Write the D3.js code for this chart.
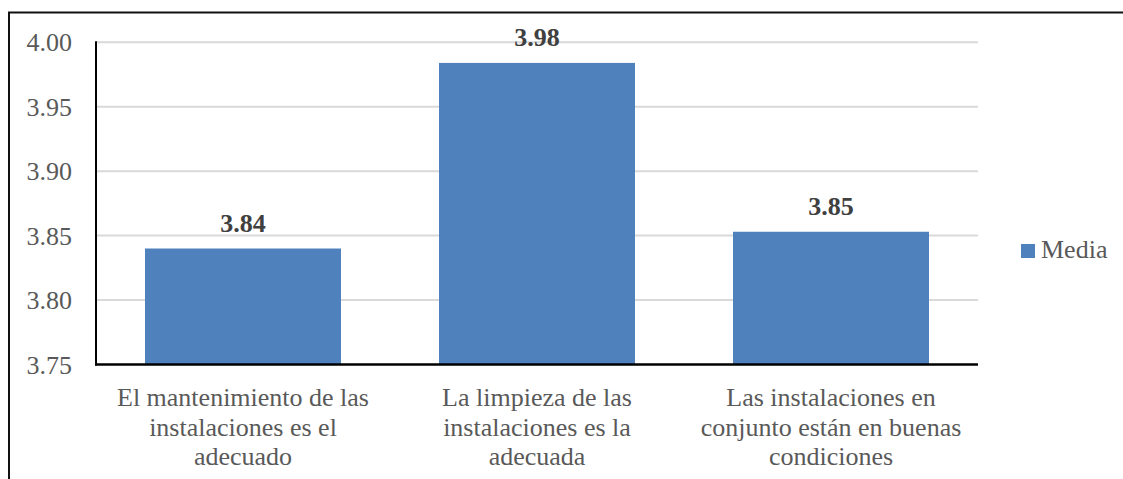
<!DOCTYPE html>
<html>
<head>
<meta charset="utf-8">
<script src="https://cdn.jsdelivr.net/npm/d3@7"></script>
<style>
	body { margin: 0; background: #fff; }
	svg { display: block; }
</style>
</head>
<body>
<div id="chart"></div>
<script>
"use strict"

// data
var categories = [
	"El mantenimiento de las instalaciones es el adecuado",
	"La limpieza de las instalaciones es la adecuada",
	"Las instalaciones en conjunto están en buenas condiciones"
];
var mediaValues = [3.84, 3.984, 3.853];
var yTicks = [3.75, 3.80, 3.85, 3.90, 3.95, 4.00];
var seriesName = "Media";

//
// bar chart inside a framed box
//
function MediaChart(sParentId) {
	this.sParentId = sParentId;
	this.width = 1123;
	this.height = 479;
	this.left = 96;
	this.right = 978;
	this.top = 42.3;
	this.bottom = 364.5;
	this.barColor = "#4F81BD";
	this.font = "'Liberation Serif', 'Times New Roman', serif";
	this.create();
}

MediaChart.prototype.create = function() {
	var self = this;
	this.svg = d3.select("#" + this.sParentId)
		.append("svg")
		.attr("width", this.width)
		.attr("height", this.height)
		.style("font-family", this.font)
		;

	// outer frame (only top and left visible)
	this.svg.append("line")
		.attr("x1", 8).attr("x2", this.width)
		.attr("y1", 12.5).attr("y2", 12.5)
		.attr("stroke", "#111").attr("stroke-width", 2)
		;
	this.svg.append("line")
		.attr("x1", 9).attr("x2", 9)
		.attr("y1", 12).attr("y2", this.height)
		.attr("stroke", "#111").attr("stroke-width", 2)
		;

	this.x = d3.scaleBand()
		.domain(categories)
		.range([this.left, this.right])
		.paddingInner(1/3)
		.paddingOuter(1/6)
		;
	this.y = d3.scaleLinear()
		.domain([3.75, 4.00])
		.range([this.bottom, this.top])
		;

	this.drawGrid();
	this.drawBars();
	this.drawAxes();
	this.drawLegend();
}

MediaChart.prototype.drawGrid = function() {
	var y = this.y;
	this.svg.append("g")
		.selectAll("line")
		.data(yTicks.filter(function(d) { return d > 3.75; }))
		.join("line")
		.attr("x1", this.left).attr("x2", this.right)
		.attr("y1", function(d) { return y(d); })
		.attr("y2", function(d) { return y(d); })
		.attr("stroke", "#D9D9D9")
		.attr("stroke-width", 2)
		;
}

MediaChart.prototype.drawBars = function() {
	var x = this.x, y = this.y, bottom = this.bottom;
	var rows = categories.map(function(c, i) { return {cat: c, val: mediaValues[i]}; });
	var g = this.svg.append("g");
	g.selectAll("rect")
		.data(rows)
		.join("rect")
		.attr("x", function(d) { return x(d.cat); })
		.attr("y", function(d) { return y(d.val); })
		.attr("width", x.bandwidth())
		.attr("height", function(d) { return bottom - y(d.val); })
		.attr("fill", this.barColor)
		;
	g.selectAll("text")
		.data(rows)
		.join("text")
		.attr("x", function(d) { return x(d.cat) + x.bandwidth() / 2; })
		.attr("y", function(d) { return y(d.val) - 17; })
		.attr("text-anchor", "middle")
		.style("font-size", "26px")
		.style("font-weight", "bold")
		.attr("fill", "#404040")
		.text(function(d) { return d3.format(".2f")(d.val); })
		;
}

MediaChart.prototype.drawAxes = function() {
	var self = this;
	var yAxis = d3.axisLeft(this.y)
		.tickValues(yTicks)
		.tickFormat(d3.format(".2f"))
		.tickSize(0)
		.tickPadding(24)
		;
	var gy = this.svg.append("g")
		.attr("transform", "translate(" + this.left + ",0)")
		.call(yAxis)
		;
	gy.select(".domain").remove();
	gy.selectAll("text")
		.style("font-family", this.font)
		.style("font-size", "26px")
		.attr("fill", "#595959")
		.attr("dy", "0.33em")
		;

	// axis lines
	this.svg.append("line")
		.attr("x1", this.left).attr("x2", this.left)
		.attr("y1", this.top - 1).attr("y2", this.bottom + 1)
		.attr("stroke", "#000").attr("stroke-width", 2)
		;
	this.svg.append("line")
		.attr("x1", this.left - 1).attr("x2", this.right)
		.attr("y1", this.bottom).attr("y2", this.bottom)
		.attr("stroke", "#000").attr("stroke-width", 2.5)
		;

	var xAxis = d3.axisBottom(this.x).tickSize(0).tickPadding(0);
	var gx = this.svg.append("g")
		.attr("transform", "translate(0," + this.bottom + ")")
		.call(xAxis)
		;
	gx.select(".domain").remove();
	gx.selectAll("text")
		.style("font-family", this.font)
		.style("font-size", "26px")
		.attr("fill", "#595959")
		.attr("y", 41.5)
		.attr("dy", 0)
		.each(function(d) { wrapText(d3.select(this), d, 285, 29.5); })
		;
}

MediaChart.prototype.drawLegend = function() {
	var g = this.svg.append("g")
		.attr("transform", "translate(1021,244)")
		;
	g.append("rect")
		.attr("width", 14).attr("height", 14)
		.attr("fill", this.barColor)
		;
	g.append("text")
		.attr("x", 20).attr("y", 14)
		.style("font-size", "26px")
		.attr("fill", "#595959")
		.text(seriesName)
		;
}

function wrapText(text, str, maxWidth, lineHeight) {
	var words = str.split(" ");
	var x = text.attr("x") || 0;
	var y = text.attr("y");
	text.text(null);
	var line = [];
	var lineNo = 0;
	var tspan = text.append("tspan").attr("x", x).attr("y", y);
	words.forEach(function(w) {
		line.push(w);
		tspan.text(line.join(" "));
		if (tspan.node().getComputedTextLength() > maxWidth && line.length > 1) {
			line.pop();
			tspan.text(line.join(" "));
			line = [w];
			lineNo++;
			tspan = text.append("tspan")
				.attr("x", x)
				.attr("y", +y + lineNo * lineHeight)
				.text(w);
		}
	});
}

var m_Chart = new MediaChart("chart");
</script>
</body>
</html>
